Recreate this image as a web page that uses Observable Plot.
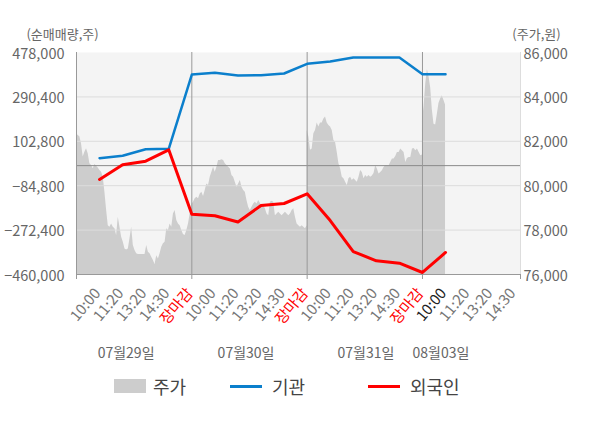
<!DOCTYPE html>
<html>
<head>
<meta charset="utf-8">
<script src="https://cdn.jsdelivr.net/npm/d3@7"></script>
<script src="https://cdn.jsdelivr.net/npm/@observablehq/plot@0.6"></script>
<style>
  html, body { margin: 0; padding: 0; background: #fff; }
  #wrap { position: relative; width: 600px; height: 428px; font-family: "Noto Sans CJK KR", "Noto Sans", sans-serif; }
  #legend { position: absolute; left: 0; top: 371px; width: 600px; height: 30px; font-size: 18px; color: #444; }
  #legend span { position: absolute; }
  #legend .t { top: 0; line-height: 30px; }
</style>
</head>
<body>
<div id="wrap">
  <div id="chart"></div>
  <div id="legend">
    <span style="left:114px; top:8px; width:32px; height:14px; background:#cdcdcd"></span>
    <span class="t" style="left:153px">주가</span>
    <span style="left:230px; top:14px; width:32px; height:3px; background:#0b7fcc"></span>
    <span class="t" style="left:272px">기관</span>
    <span style="left:368px; top:14px; width:32px; height:3px; background:#ff0000"></span>
    <span class="t" style="left:410px">외국인</span>
  </div>
</div>
<script>
// ---- data ----
const sessionLabels = ["10:00", "11:20", "13:20", "14:30", "장마감"];
const dateLabels = ["07월29일", "07월30일", "07월31일", "08월03일"];
const leftTicks = [478000, 290400, 102800, -84800, -272400, -460000];
const priceTicks = [86000, 84000, 82000, 80000, 78000, 76000];

// net buying (shares) at each label slot: 07/29 10:00 ... 08/03 10:00
const institution = [31400, 41500, 69500, 71100, 385000, 392000, 380800, 382200, 389300, 430200,
                     440000, 457000, 457000, 457000, 386000, 386000];
const foreigner = [-58600, 3500, 18800, 66900, -205000, -212000, -238000, -168400, -160000, -119000,
                   -232000, -363000, -402000, -412000, -451500, -367000];

// intraday price (원), evenly sampled within each session
const price0729 = [82360, 82260, 82200, 81890, 81290, 81510, 81660, 81440, 80990, 80910,
                   80760, 80950, 80880, 80800, 80680, 80610, 80380, 79700, 78900, 78200,
                   78130, 78280, 78130, 78060, 77760, 78580, 78130, 77680, 77450, 77150,
                   77100, 77150, 77610, 78130, 77310, 77080, 76930, 76900, 76900, 76900,
                   76900, 76900, 77310, 77000, 76930, 76780, 76630, 76450, 76850, 76700,
                   76930, 77230, 77380, 77450, 78060, 77980, 78280, 78130, 78730, 78880,
                   78430, 78280, 78200, 77980, 77800, 77760, 77980, 78280, 78730, 79030];
const price0730 = [79150, 79260, 79410, 79480, 79410, 79630, 79710, 79510, 79780, 80080,
                   80010, 80380, 80610, 80830, 80610, 80830, 81130, 81130, 81170, 81130,
                   80990, 80910, 80830, 80760, 80460, 80380, 80160, 79930, 80080, 80230,
                   79930, 79780, 79700, 79330, 79030, 78880, 79030, 79180, 79260, 79180,
                   79330, 79210, 79030, 79100, 78960, 78730, 78650, 79260, 79300, 79260,
                   78650, 78730, 78800, 78730, 78650, 78730, 78800, 78730, 78650, 78730,
                   78880, 78960, 78580, 78280, 78200, 78130, 78200, 78130, 78060, 78200];
const price0731 = [82490, 82200, 81600, 81650, 82340, 82490, 82820, 82640, 82820, 82820,
                   83010, 83090, 82820, 82710, 82640, 82490, 82040, 81950, 81510, 80990,
                   80760, 80380, 80310, 80160, 80010, 80310, 80380, 80230, 80310, 80230,
                   80160, 80380, 80680, 80600, 80310, 80460, 80380, 80460, 80380, 80440,
                   80550, 80900, 80750, 80530, 80600, 80670, 80820, 80900, 80900, 80900,
                   81050, 81200, 81200, 81320, 81500, 81500, 81650, 81570, 81500, 81050,
                   81220, 81270, 81270, 81650, 81680, 81570, 81650, 81500, 81350, 81380];
const price0803 = [82900, 83600, 84600, 85220, 84900, 84400, 83400, 82770, 82730, 83200,
                   83700, 83900, 84050, 83850, 83630];
const priceDays = [price0729, price0730, price0731, price0803];
const daySlots = [5, 5, 5, 1]; // label slots covered by each day's series (08/03 up to 10:00)

// ---- helpers ----
const FLOW_MIN = -460000, FLOW_MAX = 478000, P_MIN = 76000, P_MAX = 86000;
const toFlow = p => FLOW_MIN + (p - P_MIN) / (P_MAX - P_MIN) * (FLOW_MAX - FLOW_MIN);
const fmt = d3.format(",");

const xLabels = [];
dateLabels.forEach(() => sessionLabels.forEach(s => xLabels.push(s)));
const nSlots = 19;                       // 4 x 5 slots, last day shown to 14:30
const slotIdx = d3.range(1, nSlots + 1);
const X_MAX = 19.25;

const priceRows = [];
priceDays.forEach((arr, k) => {
  arr.forEach((p, i) => priceRows.push({x: 5 * k + daySlots[k] * i / (arr.length - 1), y: toFlow(p)}));
});
const instRows = institution.map((v, i) => ({x: i + 1, y: v}));
const forRows = foreigner.map((v, i) => ({x: i + 1, y: v}));
const datePos = [2.15, 7.35, 12.55, 15.8];

const labelColor = d => {
  if (xLabels[d - 1] === "장마감") return "#ff0000";
  if (d === institution.length) return "#222222";
  return "#777777";
};

const chart = Plot.plot({
  width: 600,
  height: 370,
  marginTop: 52,
  marginBottom: 96,
  marginLeft: 76,
  marginRight: 80,
  style: {fontFamily: '"Noto Sans CJK KR", "Noto Sans", sans-serif', fontSize: "14px", color: "#666"},
  x: {domain: [0, X_MAX], axis: null},
  y: {domain: [FLOW_MIN, FLOW_MAX], axis: null},
  color: {type: "identity"},
  marks: [
    Plot.frame({fill: "#f4f4f4", stroke: null}),
    Plot.areaY(priceRows, {x: "x", y1: FLOW_MIN, y2: "y", fill: "#cdcdcd", curve: "linear"}),
    Plot.ruleY(leftTicks.filter(d => d !== 0 && d !== FLOW_MIN && d !== FLOW_MAX), {stroke: "#dcdcdc", strokeWidth: 1}),
    Plot.ruleY([0], {stroke: "#8a8a8a", strokeWidth: 1}),
    Plot.ruleX([5, 10, 15], {stroke: "#999", strokeWidth: 1}),
    Plot.ruleX([X_MAX], {stroke: "#ddd", strokeWidth: 1}),
    Plot.ruleX([0], {stroke: "#999", strokeWidth: 1}),
    Plot.ruleY([FLOW_MIN], {stroke: "#999", strokeWidth: 1}),
    Plot.axisX([0, 5, 10, 15, X_MAX], {tickSize: 5, tickFormat: () => "", color: "#999", label: null}),
    Plot.line(instRows, {x: "x", y: "y", stroke: "#0b7fcc", strokeWidth: 2.5}),
    Plot.line(forRows, {x: "x", y: "y", stroke: "#ff0000", strokeWidth: 3}),
    Plot.axisY(leftTicks, {anchor: "left", tickSize: 0, tickPadding: 12, tickFormat: fmt, fill: "#666", fontSize: 14.5, dy: 1.5, label: null}),
    Plot.axisY(leftTicks, {anchor: "right", tickSize: 0, tickPadding: 3,
      tickFormat: d => fmt(priceTicks[leftTicks.indexOf(d)]), fill: "#666", fontSize: 14.5, dy: 1.5, label: null}),
    Plot.text(slotIdx, {x: d => d, y: FLOW_MIN, text: d => xLabels[d - 1], rotate: -50,
      textAnchor: "end", lineAnchor: "middle", dy: 16, dx: -2, fill: labelColor, fontSize: 15}),
    Plot.text(dateLabels, {x: (d, i) => datePos[i], y: FLOW_MIN, text: d => d, dy: 79, fill: "#666", fontSize: 14}),
    Plot.text(["(순매매량,주)"], {frameAnchor: "top-left", text: d => d, textAnchor: "middle", dx: -14, dy: -23, fill: "#666", fontSize: 13}),
    Plot.text(["(주가,원)"], {frameAnchor: "top-right", text: d => d, textAnchor: "middle", dx: 16, dy: -23, fill: "#666", fontSize: 13})
  ]
});
document.getElementById("chart").appendChild(chart);
</script>
</body>
</html>
